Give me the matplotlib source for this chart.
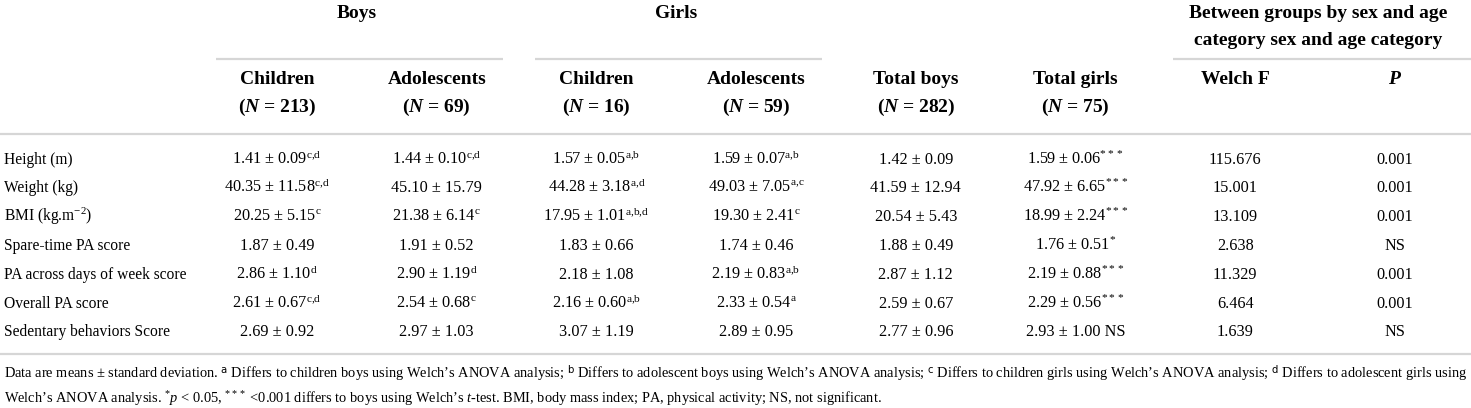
import matplotlib
matplotlib.use("Agg")
import matplotlib.pyplot as plt

plt.rcParams['font.family'] = ['Liberation Serif', 'DejaVu Serif']
plt.rcParams['mathtext.fontset'] = 'custom'
plt.rcParams['mathtext.rm'] = 'Liberation Serif'
plt.rcParams['mathtext.it'] = 'Liberation Serif:italic'
plt.rcParams['mathtext.bf'] = 'Liberation Serif:bold'
plt.rcParams['mathtext.bfit'] = 'Liberation Serif:italic:bold'
plt.rcParams['mathtext.sf'] = 'DejaVu Sans'

# ---------------- data ----------------
row_labels = ["Height (m)", "Weight (kg)", r"BMI (kg.m$^{-2}$)", "Spare-time PA score",
              "PA across days of week score", "Overall PA score", "Sedentary behaviors Score"]

group_labels = ["Boys", "Girls"]
col_titles = ["Children", "Adolescents", "Children", "Adolescents", "Total boys", "Total girls"]
col_n = [213, 69, 16, 59, 282, 75]
stat_titles = ["Welch F", r"$\mathbfit{P}$"]
stat_group_title = ["Between groups by sex and age", "category sex and age category"]

boys_children_mean = [1.41, 40.35, 20.25, 1.87, 2.86, 2.61, 2.69]
boys_children_sd = [0.09, 11.58, 5.15, 0.49, 1.10, 0.67, 0.92]
boys_children_sup = ["c,d", "c,d", "c", "", "d", "c,d", ""]

boys_adol_mean = [1.44, 45.10, 21.38, 1.91, 2.90, 2.54, 2.97]
boys_adol_sd = [0.10, 15.79, 6.14, 0.52, 1.19, 0.68, 1.03]
boys_adol_sup = ["c,d", "", "c", "", "d", "c", ""]

girls_children_mean = [1.57, 44.28, 17.95, 1.83, 2.18, 2.16, 3.07]
girls_children_sd = [0.05, 3.18, 1.01, 0.66, 1.08, 0.60, 1.19]
girls_children_sup = ["a,b", "a,d", "a,b,d", "", "", "a,b", ""]

girls_adol_mean = [1.59, 49.03, 19.30, 1.74, 2.19, 2.33, 2.89]
girls_adol_sd = [0.07, 7.05, 2.41, 0.46, 0.83, 0.54, 0.95]
girls_adol_sup = ["a,b", "a,c", "c", "", "a,b", "a", ""]

total_boys_mean = [1.42, 41.59, 20.54, 1.88, 2.87, 2.59, 2.77]
total_boys_sd = [0.09, 12.94, 5.43, 0.49, 1.12, 0.67, 0.96]
total_boys_sup = ["", "", "", "", "", "", ""]

total_girls_mean = [1.59, 47.92, 18.99, 1.76, 2.19, 2.29, 2.93]
total_girls_sd = [0.06, 6.65, 2.24, 0.51, 0.88, 0.56, 1.00]
total_girls_sup = ["***", "***", "***", "*", "***", "***", ""]
total_girls_suffix = ["", "", "", "", "", "", " NS"]

welch_f = ["115.676", "15.001", "13.109", "2.638", "11.329", "6.464", "1.639"]
p_values = ["0.001", "0.001", "0.001", "NS", "0.001", "0.001", "NS"]

footnote_1 = ("Data are means \u00b1 standard deviation. $^{\\mathsf{a}}$ Differs to children boys using Welch\u2019s ANOVA analysis; "
              "$^{\\mathsf{b}}$ Differs to adolescent boys using Welch\u2019s ANOVA analysis; $^{\\mathsf{c}}$ Differs to children girls "
              "using Welch\u2019s ANOVA analysis; $^{\\mathsf{d}}$ Differs to adolescent girls using")
footnote_2 = ("Welch\u2019s ANOVA analysis. $^{*}\\mathit{p}$ < 0.05, $^{***}$ <0.001 differs to boys using Welch\u2019s "
              "$\\mathit{t}$-test. BMI, body mass index; PA, physical activity; NS, not significant.")

# ---------------- layout ----------------
W, H = 1471, 408
fig = plt.figure(figsize=(W / 100, H / 100), dpi=100)
ax = fig.add_axes([0, 0, 1, 1])
ax.set_xlim(0, W)
ax.set_ylim(H, 0)
ax.axis('off')

col_x = [277 + 159.7 * i for i in range(8)]
row_y0, row_dy = 158.5, 28.8
line_color = '#d6d6d6'
lw = 1.6
body_fs = 11.7
label_fs = 11.2
head_fs = 14
foot_fs = 10.4

def hline(x0, x1, y):
    ax.plot([x0, x1], [y, y], color=line_color, lw=lw, solid_capstyle='butt')

# group headers
ax.text((col_x[0] + col_x[1]) / 2, 18, group_labels[0], ha='center', va='baseline',
        fontsize=head_fs, fontweight='bold')
ax.text((col_x[2] + col_x[3]) / 2, 18, group_labels[1], ha='center', va='baseline',
        fontsize=head_fs, fontweight='bold')
ax.text(1318, 18, stat_group_title[0], ha='center', va='baseline', fontsize=head_fs, fontweight='bold')
ax.text(1318, 45, stat_group_title[1], ha='center', va='baseline', fontsize=head_fs, fontweight='bold')

hline(216, 503, 59)
hline(535, 822, 59)
hline(1173, W, 59)

for i, (t, n) in enumerate(zip(col_titles, col_n)):
    ax.text(col_x[i], 84, t, ha='center', va='baseline', fontsize=head_fs, fontweight='bold')
    ax.text(col_x[i], 112, "($\\mathbfit{N}$ = %d)" % n, ha='center', va='baseline',
            fontsize=head_fs, fontweight='bold')
for j, t in enumerate(stat_titles):
    ax.text(col_x[6 + j], 84, t, ha='center', va='baseline', fontsize=head_fs, fontweight='bold')

hline(0, W, 134)

def sup_tex(sup):
    if "*" in sup:
        return sup
    return "\\mathrm{" + sup.replace(",", "{,}") + "}"

def cell(mean, sd, sup, suffix=""):
    s = "%.2f \u00b1 %.2f" % (mean, sd)
    if sup:
        s += "$^{%s}$" % sup_tex(sup)
    return s + suffix

groups = [
    (boys_children_mean, boys_children_sd, boys_children_sup, None),
    (boys_adol_mean, boys_adol_sd, boys_adol_sup, None),
    (girls_children_mean, girls_children_sd, girls_children_sup, None),
    (girls_adol_mean, girls_adol_sd, girls_adol_sup, None),
    (total_boys_mean, total_boys_sd, total_boys_sup, None),
    (total_girls_mean, total_girls_sd, total_girls_sup, total_girls_suffix),
]

for r, label in enumerate(row_labels):
    yb = row_y0 + row_dy * r + 5
    ax.text(4, yb, label, ha='left', va='baseline', fontsize=label_fs)
    for c, (m, s, sp, sf) in enumerate(groups):
        ax.text(col_x[c], yb, cell(m[r], s[r], sp[r], sf[r] if sf else ""),
                ha='center', va='baseline', fontsize=body_fs)
    ax.text(col_x[6], yb, welch_f[r], ha='center', va='baseline', fontsize=body_fs)
    ax.text(col_x[7], yb, p_values[r], ha='center', va='baseline', fontsize=body_fs)

hline(0, W, 354)

ax.text(4, 379, footnote_1, ha='left', va='baseline', fontsize=foot_fs)
ax.text(4, 403, footnote_2, ha='left', va='baseline', fontsize=foot_fs)

fig.savefig("out.png", dpi=100)
